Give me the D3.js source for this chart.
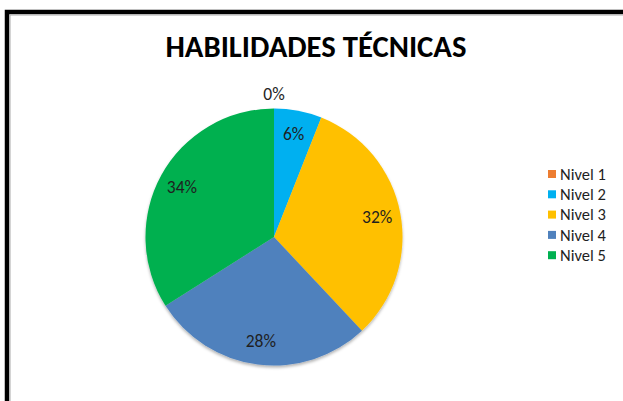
<!DOCTYPE html>
<html>
<head>
<meta charset="utf-8">
<script src="https://cdn.jsdelivr.net/npm/d3@7"></script>
<style>
  html, body { margin: 0; padding: 0; overflow: hidden; background: #fff; }
  svg { display: block; }
</style>
</head>
<body>
<svg id="chart" width="623" height="401"></svg>
<script>
// data
const categories = ["Nivel 1", "Nivel 2", "Nivel 3", "Nivel 4", "Nivel 5"];
const values = [0, 6, 32, 28, 34];
const colors = ["#ED7D31", "#00B0F0", "#FFC000", "#4F81BD", "#00B050"];
const title = "HABILIDADES TÉCNICAS";

const svg = d3.select("#chart");
const font = "Carlito, 'Open Sans', 'Liberation Sans', sans-serif";

// frame (only top and left edges show in the crop)
svg.append("path")
    .attr("d", "M7,420 V12 H700")
    .attr("fill", "none")
    .attr("stroke", "#000").attr("stroke-width", 4.5);
svg.append("path")
    .attr("d", "M10,420 V15 H700")
    .attr("fill", "none").attr("stroke", "#aaa").attr("stroke-width", 1);

svg.append("text")
    .attr("x", 316).attr("y", 57)
    .attr("text-anchor", "middle")
    .attr("font-family", font)
    .attr("font-weight", "bold")
    .attr("font-size", 30)
    .attr("textLength", 301)
    .attr("lengthAdjust", "spacingAndGlyphs")
    .attr("fill", "#000")
    .text(title);

const cx = 274, cy = 237, r = 128.5;
const total = d3.sum(values);

const defs = svg.append("defs");
const f = defs.append("filter").attr("id", "sh")
    .attr("x", "-20%").attr("y", "-20%").attr("width", "140%").attr("height", "140%");
f.append("feDropShadow").attr("dx", 0).attr("dy", 2).attr("stdDeviation", 1.5)
    .attr("flood-color", "#000").attr("flood-opacity", 0.3);

const pie = d3.pie().sort(null).value(d => d)(values);
const arc = d3.arc().innerRadius(0).outerRadius(r);
const labelArc = d3.arc().innerRadius(105).outerRadius(105);

const g = svg.append("g").attr("transform", `translate(${cx},${cy})`);

g.append("g").attr("filter", "url(#sh)")
    .selectAll("path").data(pie).enter().append("path")
    .attr("d", arc)
    .attr("fill", (d, i) => colors[i]);

g.selectAll("text.lbl").data(pie).enter().append("text")
    .attr("class", "lbl")
    .attr("transform", d => {
        if (d.value === 0) return `translate(0,${-r - 15})`;
        return `translate(${labelArc.centroid(d)})`;
    })
    .attr("text-anchor", "middle")
    .attr("dy", "0.35em")
    .attr("font-family", font)
    .attr("font-size", 17.5)
    .attr("fill", "#1f1f1f")
    .text(d => Math.round(d.value / total * 100) + "%");

// legend
const legend = svg.append("g").attr("transform", "translate(548,174)");
const rows = legend.selectAll("g").data(categories).enter().append("g")
    .attr("transform", (d, i) => `translate(0,${i * 20.3})`);
rows.append("rect")
    .attr("x", 0).attr("y", -4).attr("width", 8).attr("height", 8)
    .attr("fill", (d, i) => colors[i]);
rows.append("text")
    .attr("x", 12).attr("dy", "0.35em")
    .attr("font-family", font)
    .attr("font-size", 16.5)
    .attr("fill", "#1f1f1f")
    .text(d => d);
</script>
</body>
</html>
